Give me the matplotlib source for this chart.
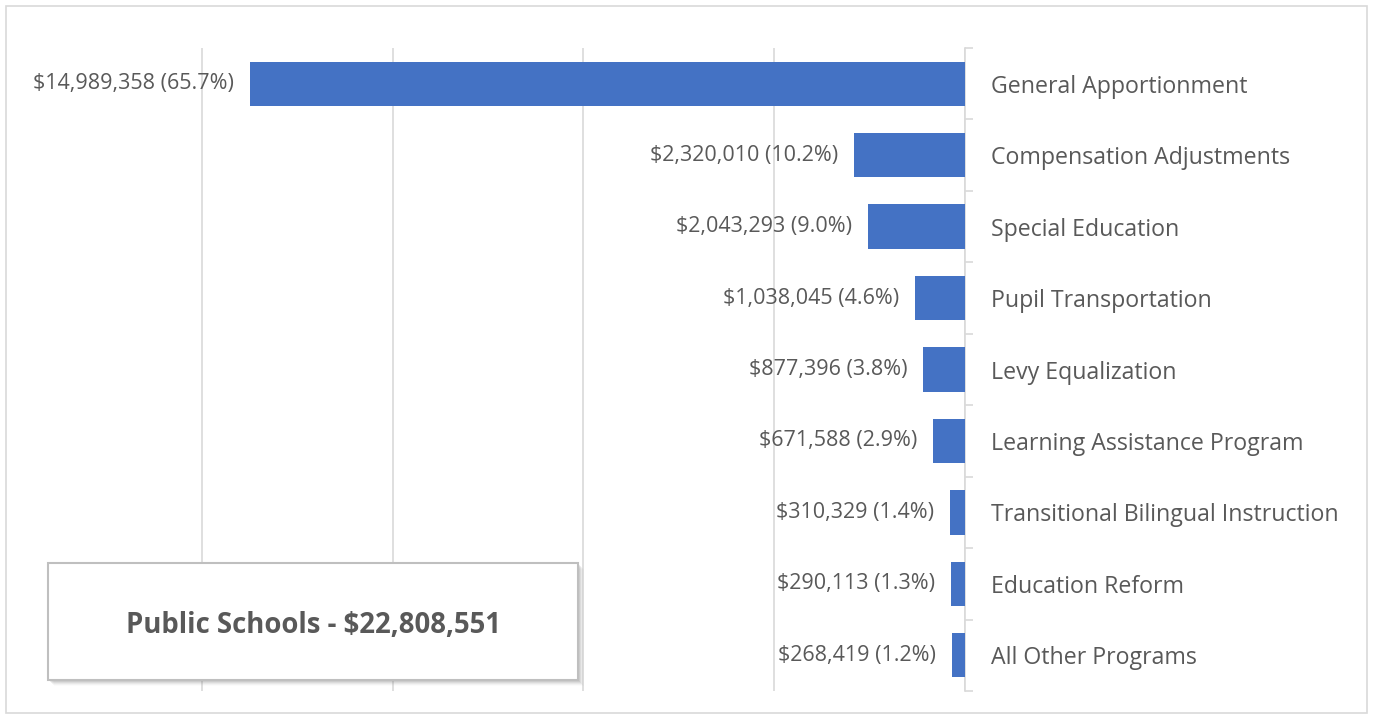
import numpy as np
import matplotlib.pyplot as plt
from matplotlib.patches import Rectangle

programs = ["General Apportionment", "Compensation Adjustments", "Special Education",
            "Pupil Transportation", "Levy Equalization", "Learning Assistance Program",
            "Transitional Bilingual Instruction", "Education Reform", "All Other Programs"]
amounts = [14989358, 2320010, 2043293, 1038045, 877396, 671588, 310329, 290113, 268419]
shares = [65.7, 10.2, 9.0, 4.6, 3.8, 2.9, 1.4, 1.3, 1.2]
total = 22808551

plt.rcParams['font.family'] = ['Open Sans', 'DejaVu Sans']
text_color = "#595959"
bar_color = "#4472C4"

fig = plt.figure(figsize=(13.73, 7.19), dpi=100)
ax = fig.add_axes([11/1373, 28/719, 954/1373, 643/719])

y = np.arange(len(programs))
ax.barh(y, [-a for a in amounts], height=0.62, color=bar_color, zorder=3)

for yi, a, s in zip(y, amounts, shares):
    ax.annotate(f"${a:,} ({s:.1f}%)", xy=(-a, yi), xytext=(-11.5, 0), textcoords="offset points",
                ha="right", va="center", fontsize=15.5, color=text_color, zorder=4)

ax.set_xlim(-20000000, 0)
ax.set_ylim(len(programs) - 0.5, -0.5)
ax.set_xticks(np.arange(-16000000, 1, 4000000))
ax.xaxis.grid(True, color="#D9D9D9", linewidth=1.2, zorder=0)
ax.tick_params(axis="x", length=0, labelbottom=False)

ax.yaxis.tick_right()
ax.set_yticks(y)
ax.set_yticklabels(programs, fontsize=16.7, color=text_color)
ax.set_yticks(np.arange(-0.5, len(programs)), minor=True)
ax.tick_params(axis="y", which="major", length=0, pad=18.7)
ax.tick_params(axis="y", which="minor", length=6, color="#D9D9D9", width=1.2, direction="out")

for side in ["top", "left", "bottom"]:
    ax.spines[side].set_visible(False)
ax.spines["right"].set_color("#D9D9D9")
ax.spines["right"].set_linewidth(1.2)

# total callout box with a soft shadow
bx, by, bw, bh = 48/1373, 39/719, 530/1373, 117/719
for i, alpha in enumerate([0.15, 0.12, 0.09, 0.06, 0.03]):
    d = i + 2
    fig.patches.append(Rectangle((bx + d / 1373, by - d / 719), bw, bh, transform=fig.transFigure,
                                 facecolor="#808080", edgecolor="none", alpha=alpha, zorder=5))
fig.patches.append(Rectangle((bx, by), bw, bh, transform=fig.transFigure,
                             facecolor="white", edgecolor="#BFBFBF", linewidth=1.5, zorder=6))
fig.text(bx + bw / 2, by + bh / 2 - 4 / 719, f"Public Schools - ${total:,}", ha="center", va="center",
         fontsize=19.8, fontweight="bold", color=text_color, zorder=7)

# outer frame
fig.patches.append(Rectangle((6/1373, 6/719), 1361/1373, 707/719, transform=fig.transFigure,
                             facecolor="none", edgecolor="#D9D9D9", linewidth=1.2, zorder=1))

fig.savefig("out.png", dpi=100)
